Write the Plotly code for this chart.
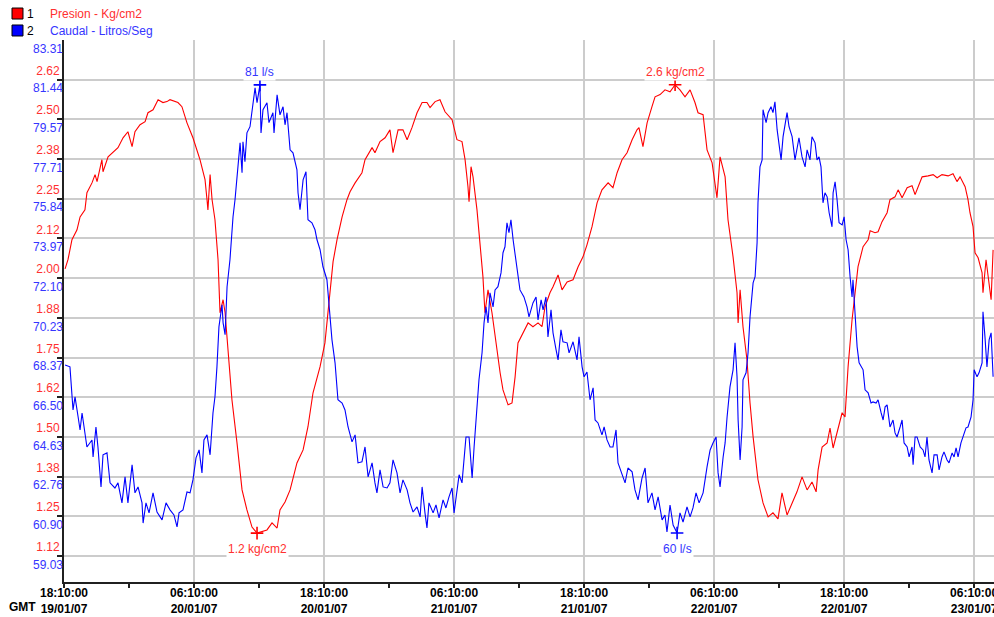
import plotly.graph_objects as go
import pandas as pd

# ---------------- data (minutes after 19/01/07 18:10 GMT) ----------------
pres_minutes = [
    6, 22, 44, 72, 89, 116, 127, 155, 172, 183,
    210, 216, 244, 271, 299, 327, 354, 377, 393, 421,
    449, 465, 493, 521, 548, 570, 587, 631, 653, 681,
    714, 753, 781, 792, 797, 809, 820, 836, 853, 864,
    881, 892, 908, 930, 958, 986, 1013, 1041, 1069, 1097,
    1124, 1152, 1180, 1196, 1224, 1252, 1290, 1324, 1351, 1379,
    1418, 1445, 1462, 1473, 1490, 1512, 1540, 1567, 1584, 1612,
    1650, 1667, 1706, 1722, 1750, 1778, 1805, 1822, 1850, 1877,
    1900, 1927, 1955, 1983, 2010, 2027, 2055, 2082, 2110, 2149,
    2176, 2204, 2221, 2237, 2243, 2254, 2265, 2287, 2304, 2320,
    2331, 2348, 2370, 2387, 2415, 2431, 2459, 2481, 2498, 2514,
    2542, 2570, 2597, 2625, 2647, 2664, 2691, 2708, 2736, 2758,
    2786, 2819, 2847, 2874, 2896, 2924, 2952, 2979, 3013, 3040,
    3063, 3090, 3118, 3146, 3173, 3184, 3206, 3229, 3256, 3273,
    3301, 3328, 3356, 3384, 3411, 3439, 3467, 3494, 3511, 3539,
    3561, 3589, 3616, 3633, 3661, 3677, 3705, 3727, 3733, 3744,
    3760, 3782, 3799, 3816, 3843, 3871, 3899, 3926, 3954, 3976,
    4004, 4032, 4059, 4087, 4115, 4142, 4165, 4176, 4198, 4226,
    4242, 4259, 4287, 4309, 4325, 4342, 4364, 4381, 4397, 4425,
    4453, 4464, 4491, 4508, 4530, 4558, 4574, 4602, 4619, 4641,
    4669, 4696, 4713, 4730, 4752, 4785, 4813, 4835, 4862, 4896,
    4923, 4945, 4962, 4990, 5006, 5017, 5034, 5045, 5062, 5084,
    5089, 5106, 5117, 5134, 5145,
]
pres_values = [
    2.029, 2.058, 2.121, 2.152, 2.193, 2.215, 2.269, 2.300, 2.326, 2.304,
    2.373, 2.335, 2.382, 2.395, 2.411, 2.442, 2.461, 2.414, 2.461, 2.483,
    2.493, 2.521, 2.530, 2.562, 2.553, 2.556, 2.562, 2.553, 2.540, 2.489,
    2.442, 2.373, 2.310, 2.247, 2.215, 2.326, 2.247, 2.184, 2.058, 1.891,
    1.932, 1.891, 1.765, 1.617, 1.481, 1.333, 1.270, 1.216, 1.197, 1.201,
    1.207, 1.229, 1.213, 1.270, 1.295, 1.333, 1.418, 1.459, 1.532, 1.639,
    1.721, 1.796, 1.891, 1.954, 2.052, 2.121, 2.193, 2.247, 2.272, 2.300,
    2.332, 2.373, 2.411, 2.395, 2.430, 2.442, 2.467, 2.395, 2.467, 2.467,
    2.436, 2.474, 2.521, 2.553, 2.553, 2.537, 2.556, 2.562, 2.524, 2.499,
    2.436, 2.430, 2.373, 2.288, 2.241, 2.351, 2.319, 2.215, 2.111, 2.004,
    1.891, 1.963, 1.891, 1.815, 1.702, 1.648, 1.601, 1.607, 1.689, 1.796,
    1.828, 1.859, 1.847, 1.859, 1.847, 1.910, 1.954, 1.973, 2.010, 1.963,
    1.988, 1.995, 2.036, 2.067, 2.105, 2.162, 2.237, 2.278, 2.300, 2.285,
    2.332, 2.373, 2.395, 2.436, 2.467, 2.474, 2.414, 2.489, 2.540, 2.571,
    2.578, 2.593, 2.587, 2.609, 2.593, 2.571, 2.593, 2.553, 2.521, 2.515,
    2.404, 2.363, 2.253, 2.382, 2.319, 2.184, 2.067, 1.954, 1.859, 1.963,
    1.847, 1.743, 1.607, 1.500, 1.365, 1.292, 1.248, 1.261, 1.242, 1.324,
    1.254, 1.292, 1.327, 1.374, 1.333, 1.358, 1.327, 1.396, 1.468, 1.481,
    1.528, 1.465, 1.532, 1.576, 1.563, 1.721, 1.869, 1.954, 2.036, 2.099,
    2.121, 2.149, 2.143, 2.146, 2.178, 2.206, 2.247, 2.256, 2.278, 2.253,
    2.285, 2.291, 2.263, 2.288, 2.319, 2.322, 2.326, 2.316, 2.326, 2.322,
    2.329, 2.304, 2.319, 2.288, 2.247, 2.206, 2.162, 2.080, 2.064, 2.017,
    1.954, 2.058, 2.004, 1.932, 2.089,
]

flow_minutes = [
    6, 33, 50, 61, 78, 89, 100, 116, 127, 155,
    161, 177, 188, 205, 216, 238, 255, 282, 299, 321,
    338, 354, 377, 393, 410, 432, 438, 454, 471, 493,
    515, 543, 565, 587, 609, 626, 637, 659, 681, 698,
    714, 731, 748, 764, 775, 792, 809, 825, 836, 847,
    858, 875, 881, 892, 903, 919, 936, 947, 958, 975,
    986, 991, 1002, 1013, 1030, 1041, 1058, 1069, 1085, 1091,
    1102, 1124, 1135, 1157, 1163, 1180, 1196, 1213, 1224, 1235,
    1252, 1268, 1290, 1296, 1307, 1324, 1340, 1351, 1373, 1390,
    1401, 1418, 1434, 1456, 1468, 1484, 1501, 1517, 1540, 1556,
    1573, 1595, 1612, 1628, 1650, 1667, 1684, 1706, 1722, 1733,
    1750, 1767, 1789, 1805, 1822, 1844, 1861, 1877, 1900, 1916,
    1933, 1955, 1972, 1983, 1999, 2010, 2021, 2044, 2060, 2077,
    2099, 2115, 2132, 2149, 2160, 2176, 2188, 2204, 2215, 2226,
    2243, 2260, 2271, 2287, 2298, 2315, 2326, 2337, 2348, 2359,
    2376, 2387, 2403, 2420, 2431, 2442, 2453, 2464, 2475, 2487,
    2509, 2525, 2547, 2564, 2575, 2597, 2614, 2625, 2642, 2653,
    2669, 2680, 2697, 2708, 2725, 2736, 2752, 2763, 2786, 2797,
    2819, 2830, 2841, 2852, 2869, 2880, 2896, 2913, 2930, 2941,
    2957, 2979, 2991, 3007, 3024, 3040, 3057, 3068, 3090, 3107,
    3123, 3146, 3162, 3179, 3201, 3218, 3234, 3256, 3273, 3290,
    3312, 3328, 3339, 3356, 3373, 3395, 3411, 3428, 3450, 3467,
    3483, 3500, 3517, 3539, 3561, 3578, 3594, 3611, 3622, 3633,
    3650, 3661, 3672, 3688, 3705, 3716, 3727, 3733, 3744, 3755,
    3760, 3777, 3788, 3799, 3816, 3827, 3838, 3843, 3854, 3866,
    3871, 3888, 3899, 3915, 3926, 3937, 3949, 3960, 3971, 3982,
    4004, 4015, 4032, 4048, 4059, 4070, 4087, 4104, 4115, 4131,
    4142, 4159, 4170, 4181, 4192, 4203, 4214, 4226, 4237, 4253,
    4259, 4270, 4281, 4292, 4309, 4320, 4331, 4342, 4353, 4364,
    4369, 4381, 4392, 4403, 4425, 4436, 4453, 4469, 4480, 4497,
    4508, 4525, 4536, 4547, 4558, 4574, 4591, 4602, 4613, 4630,
    4641, 4652, 4669, 4680, 4696, 4702, 4713, 4724, 4741, 4757,
    4768, 4779, 4790, 4807, 4818, 4835, 4846, 4862, 4873, 4890,
    4901, 4918, 4929, 4940, 4951, 4967, 4979, 4995, 5006, 5023,
    5034, 5040, 5056, 5067, 5084, 5089, 5100, 5111, 5123, 5134,
    5145,
]
flow_values = [
    68.02, 67.93, 65.90, 66.52, 65.58, 64.96, 65.76, 64.82, 64.16, 64.49,
    63.69, 65.10, 64.16, 62.28, 63.79, 63.88, 62.47, 62.23, 62.47, 61.53,
    62.75, 61.53, 63.32, 62.00, 62.28, 61.53, 60.58, 61.53, 61.06, 62.00,
    61.10, 60.73, 61.53, 61.20, 60.96, 60.40, 61.06, 61.20, 62.04, 62.00,
    62.61, 63.65, 64.02, 62.94, 64.49, 64.73, 63.79, 65.76, 66.52, 67.93,
    69.81, 70.85, 70.00, 69.44, 71.70, 72.97, 74.99, 75.79, 76.73, 78.47,
    77.06, 78.52, 77.58, 78.94, 79.23, 79.89, 81.06, 80.36, 81.20, 78.94,
    80.03, 80.36, 79.42, 79.89, 78.94, 80.73, 79.79, 80.17, 79.32, 79.89,
    78.14, 78.00, 77.20, 76.12, 75.32, 76.73, 77.11, 74.85, 74.71, 74.38,
    73.91, 73.44, 72.64, 72.03, 70.61, 69.20, 68.12, 66.38, 66.23, 65.90,
    65.10, 64.40, 64.73, 63.41, 63.46, 64.16, 62.75, 63.41, 62.47, 62.00,
    63.08, 62.28, 62.23, 62.47, 63.55, 62.94, 62.00, 62.61, 62.14, 61.53,
    61.10, 61.34, 60.87, 62.28, 61.06, 60.35, 61.53, 61.06, 61.43, 60.82,
    61.67, 61.29, 61.81, 62.23, 61.06, 62.14, 62.85, 62.47, 63.55, 64.63,
    64.63, 62.70, 64.16, 65.90, 67.32, 68.59, 70.00, 70.75, 70.00, 71.41,
    70.75, 71.55, 71.70, 72.35, 73.30, 73.58, 74.71, 74.24, 74.85, 73.91,
    72.50, 71.55, 71.22, 70.75, 70.28, 70.94, 71.22, 70.14, 71.08, 70.61,
    71.22, 69.34, 70.61, 69.53, 68.73, 68.26, 69.67, 69.11, 69.06, 68.59,
    69.11, 68.59, 68.26, 69.34, 67.93, 67.46, 67.69, 66.38, 66.94, 65.43,
    65.29, 64.73, 65.10, 64.49, 64.16, 64.16, 64.96, 63.41, 62.85, 62.47,
    63.17, 62.99, 62.14, 61.67, 62.70, 63.17, 61.53, 62.00, 61.20, 61.81,
    60.73, 60.96, 60.16, 61.43, 60.49, 60.11, 61.06, 60.63, 61.34, 60.87,
    61.29, 62.00, 61.53, 62.00, 63.22, 64.02, 64.35, 64.63, 62.94, 62.28,
    63.69, 64.35, 65.58, 66.99, 67.79, 69.06, 67.46, 65.43, 63.55, 65.10,
    67.32, 67.65, 68.59, 70.28, 71.88, 72.17, 73.77, 75.65, 77.34, 77.67,
    80.03, 79.42, 79.89, 80.17, 79.89, 80.40, 79.09, 78.29, 77.67, 78.76,
    79.89, 79.23, 78.76, 77.67, 78.29, 78.71, 77.81, 77.34, 78.14, 77.67,
    78.76, 78.47, 77.67, 77.81, 77.34, 75.65, 76.12, 75.93, 75.18, 74.52,
    76.12, 76.64, 75.79, 74.71, 74.61, 74.99, 73.91, 73.44, 72.17, 71.22,
    72.03, 70.14, 68.87, 68.12, 67.79, 66.85, 66.71, 66.23, 66.28, 66.23,
    66.38, 65.76, 65.43, 66.05, 66.14, 65.10, 65.43, 64.82, 64.63, 65.10,
    65.43, 64.35, 64.16, 63.69, 64.16, 63.32, 64.63, 64.63, 64.16, 64.02,
    63.69, 64.63, 63.55, 62.94, 63.79, 63.79, 63.08, 63.69, 63.93, 63.55,
    63.41, 63.88, 63.69, 64.12, 63.69, 64.35, 64.63, 65.06, 65.10, 65.58,
    66.38, 67.79, 67.46, 67.65, 68.12, 70.52, 69.34, 67.93, 69.20, 69.53,
    67.46,
]

if len(pres_minutes) != len(pres_values):
    raise ValueError(f"pres mismatch {len(pres_minutes)} vs {len(pres_values)}")
if len(flow_minutes) != len(flow_values):
    raise ValueError(f"flow mismatch {len(flow_minutes)} vs {len(flow_values)}")

# axis ticks
pres_ticks = [2.625, 2.5, 2.375, 2.25, 2.125, 2.0, 1.875, 1.75, 1.625, 1.5, 1.375, 1.25, 1.125]
pres_tick_labels = ["2.62", "2.50", "2.38", "2.25", "2.12", "2.00", "1.88", "1.75",
                    "1.62", "1.50", "1.38", "1.25", "1.12"]
flow_ticks = [83.31, 81.44, 79.57, 77.71, 75.84, 73.97, 72.10, 70.23, 68.37,
              66.50, 64.63, 62.76, 60.90, 59.03]
flow_tick_labels = ["83.31", "81.44", "79.57", "77.71", "75.84", "73.97", "72.10",
                    "70.23", "68.37", "66.50", "64.63", "62.76", "60.90", "59.03"]
pres_range = [1.043, 2.75]
flow_range = [57.806, 83.31]

start = pd.Timestamp("2007-01-19 18:10:00")
end_minutes = 5150
major_hours = [0, 12, 24, 36, 48, 60, 72, 84]
minor_hours = [6, 18, 30, 42, 54, 66, 78]

RED = "#ff0000"
BLUE = "#0000ff"
RED_TXT = "#ff3030"
BLUE_TXT = "#3535ff"
FONT = "Liberation Sans, Arial, sans-serif"

px = start + pd.to_timedelta(pres_minutes, unit="min")
fx = start + pd.to_timedelta(flow_minutes, unit="min")

fig = go.Figure()
fig.add_trace(go.Scatter(x=px, y=pres_values, mode="lines", yaxis="y",
                         line=dict(color=RED, width=1.1), name="Presion - Kg/cm2"))
fig.add_trace(go.Scatter(x=fx, y=flow_values, mode="lines", yaxis="y2",
                         line=dict(color=BLUE, width=1.1), name="Caudal - Litros/Seg"))

# extreme markers
i_pmax = max(range(len(pres_values)), key=lambda i: pres_values[i])
i_pmin = min(range(len(pres_values)), key=lambda i: pres_values[i])
i_fmax = max(range(len(flow_values)), key=lambda i: flow_values[i])
i_fmin = min(range(len(flow_values)), key=lambda i: flow_values[i])

fig.add_trace(go.Scatter(x=[px[i_pmax], px[i_pmin]], y=[pres_values[i_pmax], pres_values[i_pmin]],
                         mode="markers", yaxis="y",
                         marker=dict(symbol="cross-thin-open", size=9, color=RED,
                                     line=dict(color=RED, width=1.6))))
fig.add_trace(go.Scatter(x=[fx[i_fmax], fx[i_fmin]], y=[flow_values[i_fmax], flow_values[i_fmin]],
                         mode="markers", yaxis="y2",
                         marker=dict(symbol="cross-thin-open", size=9, color=BLUE,
                                     line=dict(color=BLUE, width=1.6))))

annotations = []


def ann(x, y, text, color, xref="x", yref="paper", xanchor="center", bold=False, bg=None, size=12):
    d = dict(x=x, y=y, xref=xref, yref=yref, text=(f"<b>{text}</b>" if bold else text),
             showarrow=False, xanchor=xanchor, yanchor="middle",
             font=dict(family=FONT, size=size, color=color))
    if bg:
        d["bgcolor"] = bg
        d["borderpad"] = 1
    annotations.append(d)


ann(px[i_pmax], 0.941, f"{pres_values[i_pmax]:.1f} kg/cm2", RED_TXT, bg="white")
ann(px[i_pmin], 0.061, f"{pres_values[i_pmin]:.1f} kg/cm2", RED_TXT, bg="white")
ann(fx[i_fmax], 0.941, f"{flow_values[i_fmax]:.0f} l/s", BLUE_TXT, bg="white")
ann(fx[i_fmin], 0.061, f"{flow_values[i_fmin]:.0f} l/s", BLUE_TXT, bg="white")

# legend (drawn as header)
ann(-0.0355, 1.048, "1", "#000000", xref="paper", xanchor="center")
ann(-0.0170, 1.048, "Presion - Kg/cm2", RED_TXT, xref="paper", xanchor="left")
ann(-0.0355, 1.0166, "2", "#000000", xref="paper", xanchor="center")
ann(-0.0170, 1.0166, "Caudal - Litros/Seg", BLUE_TXT, xref="paper", xanchor="left")
ann(-0.0612, -0.0461, "GMT", "#000000", xref="paper", xanchor="left", bold=True)

shapes = [
    dict(type="rect", xref="paper", yref="paper", x0=-0.0559, x1=-0.0441, y0=1.0387, y1=1.0590,
         fillcolor=RED, line=dict(color="#000000", width=1)),
    dict(type="rect", xref="paper", yref="paper", x0=-0.0559, x1=-0.0441, y0=1.0074, y1=1.0277,
         fillcolor=BLUE, line=dict(color="#000000", width=1)),
]

tickvals = [start + pd.Timedelta(hours=h) for h in major_hours]
ticktext = [f"<b>{t.strftime('%H:%M:%S')}</b><br><b>{t.strftime('%d/%m/%y')}</b>" for t in tickvals]
minorvals = [start + pd.Timedelta(hours=h) for h in minor_hours]

fig.update_layout(
    width=994, height=617,
    margin=dict(l=64, r=0, t=40, b=35),
    paper_bgcolor="white", plot_bgcolor="white",
    showlegend=False,
    font=dict(family=FONT, size=12),
    annotations=annotations,
    shapes=shapes,
    xaxis=dict(
        type="date", automargin=False,
        range=[start, start + pd.Timedelta(minutes=end_minutes)],
        tickmode="array", tickvals=tickvals, ticktext=ticktext,
        tickfont=dict(family=FONT, size=12, color="#000000"),
        ticklabeloverflow="allow",
        ticklabelstandoff=-5,
        showgrid=True, gridcolor="#cccccc", gridwidth=1.5,
        showline=True, linecolor="#202020", linewidth=2,
        ticks="outside", ticklen=4, tickcolor="#202020", tickwidth=1.5,
        minor=dict(tickmode="array", tickvals=minorvals, ticks="outside", ticklen=4,
                   tickcolor="#202020", tickwidth=1.5, showgrid=False),
        zeroline=False, fixedrange=True,
    ),
    yaxis=dict(
        range=pres_range, automargin=False,
        tickmode="array", tickvals=pres_ticks, ticktext=pres_tick_labels,
        tickfont=dict(family=FONT, size=12, color=RED_TXT),
        ticklabelposition="outside top",
        showgrid=True, gridcolor="#cccccc", gridwidth=1.5,
        showline=True, linecolor="#202020", linewidth=2,
        ticks="outside", ticklen=5, tickcolor="#202020", tickwidth=1.5,
        zeroline=False, side="left",
    ),
    yaxis2=dict(
        range=flow_range, overlaying="y", side="left", automargin=False,
        tickmode="array", tickvals=flow_ticks, ticktext=flow_tick_labels,
        tickfont=dict(family=FONT, size=12, color=BLUE_TXT),
        ticklabelposition="outside bottom",
        showgrid=False, showline=False, ticks="", zeroline=False,
    ),
)

fig.write_html(
    "out.html",
    config={"displayModeBar": False},
    post_script="document.body.style.margin='0';document.body.style.overflow='hidden';",
)
